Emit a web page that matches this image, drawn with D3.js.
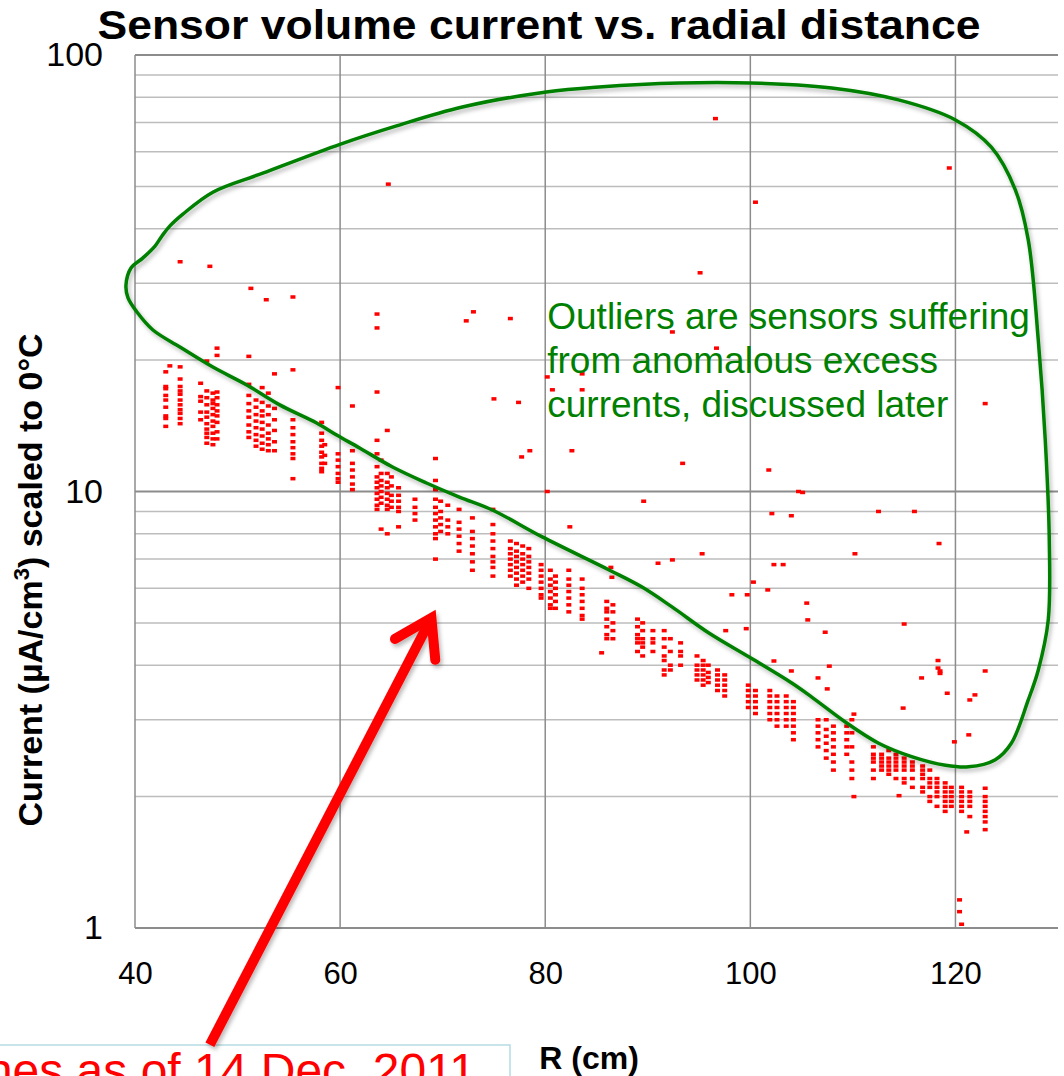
<!DOCTYPE html>
<html>
<head>
<meta charset="utf-8">
<script src="https://cdn.jsdelivr.net/npm/d3@7"></script>
<style>
  body { margin: 0; background: #fff; }
  svg { display: block; font-family: "Liberation Sans", Arial, sans-serif; }
</style>
</head>
<body>
<svg id="chart"></svg>
<script>
// chart size
const width = 1064, height = 1076;
const plot = { left: 135, right: 1058, top: 55, bottom: 928 };

// axis ticks
const xTicks = [40, 60, 80, 100, 120];
const yTicks = [1, 10, 100];

// main band: one entry per radial column, values in uA/cm3
const bandR = [43.0, 44.4, 46.4, 47.0, 47.6, 48.0, 51.1, 51.8, 52.4, 53.0, 53.6, 55.4, 58.2, 58.5, 59.8, 61.2,
  63.6, 64.0, 64.6, 65.0, 65.7, 67.3, 69.3, 69.8, 70.5, 71.6, 72.9, 74.9, 76.6, 77.2, 77.8, 78.4, 79.6, 80.5,
  81.0, 82.3, 83.6, 86.0, 86.6, 89.0, 89.5, 90.5, 91.6, 92.2, 93.2, 94.8, 95.4, 95.9, 96.8, 97.5, 99.8, 100.5,
  101.9, 102.6, 103.5, 104.2, 106.6, 107.4, 108.1, 109.4, 109.9, 112.0, 112.8, 113.5, 114.2, 115.0, 115.8,
  116.8, 117.5, 118.2, 119.0, 119.6, 120.6, 121.4, 122.9];
const bandValues = [
  [18.8, 17.4, 17.2, 16.6, 16.2, 15.6, 14.9, 14.7, 14.1],
  [19.3, 18.1, 17.4, 17.0, 16.7, 16.2, 15.8, 15.4, 15.1, 14.7, 14.3],
  [17.7, 16.5, 16.1, 15.2, 14.6],
  [19.9, 17.0, 16.4, 15.8, 15.2, 14.8, 14.3, 13.9, 13.6, 13.3, 12.9],
  [16.8, 16.2, 15.9, 15.5, 15.0, 14.5, 14.1, 13.6, 13.2, 12.8],
  [21.3, 20.5, 16.9, 16.4, 15.8, 15.3, 14.9, 14.4, 13.7, 13.2],
  [20.4, 17.6, 16.6, 15.9, 15.3, 14.8, 14.2, 13.7, 13.3],
  [16.2, 15.6, 15.0, 14.5, 14.0, 13.5, 13.1, 12.7],
  [17.3, 16.0, 15.3, 14.9, 14.4, 13.9, 13.4, 12.9, 12.5],
  [16.8, 15.7, 15.0, 14.2, 13.6, 13.2, 12.8, 12.4],
  [18.6, 15.5, 14.6, 13.8, 13.0, 12.4],
  [19.0, 14.6, 14.0, 13.5, 13.0, 12.6, 12.2, 11.9, 10.7],
  [14.4, 13.6, 13.1, 12.7, 12.3, 12.0, 11.6, 11.3, 11.1],
  [12.8, 12.1, 11.6],
  [17.3, 12.2, 11.8, 11.4, 11.0, 10.7, 10.5],
  [15.7, 12.4, 11.6, 11.2, 10.8, 10.4, 10.1],
  [16.9, 13.1, 12.2, 11.4, 10.8, 10.5, 10.2, 9.9, 9.6, 9.3, 9.1],
  [11.8, 11.0, 10.6, 10.3, 10.0, 9.7, 9.4, 8.2],
  [13.8, 11.0, 10.5, 10.2, 9.9, 9.6, 9.3, 9.1, 8.0],
  [10.8, 10.3, 9.8, 9.5, 9.2],
  [10.2, 9.8, 9.5, 9.2, 9.0, 8.3],
  [9.6, 9.2, 8.9, 8.6],
  [10.6, 10.1, 9.6, 9.2, 8.9, 8.6, 8.3, 8.0, 7.8, 7.0],
  [9.5, 9.0, 8.7, 8.4, 8.1],
  [9.3, 8.6, 8.3, 8.0],
  [9.1, 8.5, 8.2, 7.9, 7.6, 7.3],
  [8.7, 8.1, 7.8, 7.5, 7.2, 6.9, 6.6],
  [9.1, 8.4, 8.0, 7.7, 7.4, 7.1, 6.9, 6.7, 6.4],
  [7.7, 7.4, 7.2, 7.0, 6.8, 6.6, 6.4],
  [7.6, 7.3, 7.1, 6.9, 6.7, 6.5, 6.3, 6.1],
  [7.5, 7.2, 7.0, 6.8, 6.6, 6.4, 6.2],
  [7.4, 7.1, 6.9, 6.7, 6.5, 6.3, 6.0],
  [6.8, 6.6, 6.4, 6.2, 6.0, 5.8, 5.7],
  [6.6, 6.3, 6.1, 5.9, 5.7, 5.5, 5.4],
  [6.4, 6.2, 6.0, 5.8, 5.6, 5.4],
  [6.6, 6.3, 6.1, 5.9, 5.7, 5.5, 5.3],
  [6.3, 6.0, 5.8, 5.6, 5.4, 5.2, 5.1],
  [5.6, 5.4, 5.3, 5.1, 4.9, 4.7, 4.6],
  [5.5, 5.3, 5.0, 4.8, 4.6],
  [5.1, 4.9, 4.7, 4.6, 4.5, 4.3],
  [5.0, 4.8, 4.6, 4.5, 4.4, 4.2],
  [4.8, 4.6, 4.5, 4.3],
  [4.8, 4.6, 4.4, 4.2, 4.1, 3.9, 3.8],
  [4.6, 4.3, 4.0, 3.9],
  [4.5, 4.3, 4.2, 4.0],
  [4.2, 4.0, 3.9, 3.8, 3.7],
  [4.1, 4.0, 3.9, 3.8, 3.7, 3.6],
  [4.0, 3.85, 3.75, 3.65],
  [3.9, 3.8, 3.7, 3.6, 3.5],
  [3.8, 3.7, 3.6, 3.5, 3.4],
  [3.6, 3.5, 3.4, 3.3, 3.2],
  [3.5, 3.4, 3.3, 3.2, 3.1],
  [3.5, 3.4, 3.3, 3.2, 3.1, 3.0],
  [3.4, 3.3, 3.2, 3.1, 3.0, 2.9],
  [3.4, 3.3, 3.2, 3.1, 3.0, 2.9],
  [3.3, 3.2, 3.1, 3.0, 2.9, 2.8, 2.7],
  [3.0, 2.9, 2.8, 2.7, 2.6],
  [3.0, 2.85, 2.75, 2.65, 2.55, 2.45],
  [2.9, 2.8, 2.7, 2.6, 2.5, 2.4, 2.3],
  [2.9, 2.8, 2.7, 2.6, 2.5],
  [3.0, 2.8, 2.6, 2.4, 2.3, 2.2],
  [2.6, 2.5, 2.45, 2.4, 2.3, 2.2],
  [2.5, 2.45, 2.4, 2.35, 2.3],
  [2.55, 2.45, 2.4, 2.35, 2.3, 2.25],
  [2.5, 2.45, 2.4, 2.35, 2.3, 2.2],
  [2.45, 2.4, 2.35, 2.3, 2.2, 2.15],
  [2.4, 2.35, 2.3, 2.2, 2.1],
  [2.35, 2.3, 2.25, 2.2, 2.1, 2.05],
  [2.3, 2.2, 2.15, 2.1, 2.0, 1.95],
  [2.2, 2.15, 2.1, 2.05, 2.0, 1.9],
  [2.15, 2.1, 2.05, 2.0, 1.95, 1.9, 1.85],
  [2.1, 2.05, 2.0, 1.95, 1.9],
  [2.1, 2.05, 2.0, 1.95, 1.9, 1.85],
  [2.05, 2.0, 1.95, 1.9, 1.8],
  [2.09, 2.0, 1.95, 1.9, 1.85, 1.8, 1.75, 1.68]
];

// outlier sensors, [R, current]
const outliers = [[44.4,33.6],[47.3,32.8],[51.3,29.2],[52.8,27.5],[55.4,27.9],[64.7,50.6],[63.6,25.5],[63.6,23.7],
  [72.3,24.6],[73.0,25.8],[76.6,24.9],[96.6,71.5],[100.5,46.0],[95.1,31.7],[119.4,55.1],[92.4,23.2],[96.7,21.3],
  [80.2,18.3],[83.6,18.6],[80.7,17.1],[83.6,17.1],[122.9,15.9],[75.0,16.3],[77.4,16.0],[43.4,19.4],[69.3,11.9],
  [77.7,12.0],[78.5,12.4],[82.6,12.4],[80.2,10.0],[82.4,8.3],[89.6,9.5],[93.4,11.6],[95.3,7.2],[101.8,11.2],
  [105.1,9.95],[104.7,10.0],[102.1,8.9],[104.0,8.8],[112.5,9.0],[116.0,9.0],[118.4,7.6],[110.2,7.2],[91.0,6.85],
  [92.4,6.97],[86.4,6.7],[86.5,6.36],[100.3,6.2],[102.3,6.8],[103.2,6.8],[98.2,5.8],[99.7,5.8],[101.7,5.95],
  [105.5,5.55],[105.6,5.08],[99.6,4.85],[97.6,4.8],[85.5,4.27],[102.3,4.09],[104.0,3.88],[107.7,3.98],[106.6,3.74],
  [107.5,3.53],[110.1,3.09],[114.9,3.19],[116.7,3.74],[118.5,3.88],[118.5,3.83],[119.2,3.45],[121.9,3.42],
  [121.4,3.33],[122.9,3.88],[121.3,2.77],[119.9,2.67],[110.1,2.0],[114.5,2.01],[121.1,1.66],[120.4,1.16],
  [120.4,1.09],[120.6,1.02],[115.0,4.97],[107.3,4.76],[118.3,4.1],[118.3,3.94]];

// hand-drawn green loop around the outliers, [R, current]
const envelope = [[39.12,29.7],[39.61,32.5],[40.78,34.3],[41.95,36.5],[42.63,38.5],[43.41,40.6],[44.67,43.2],
  [47.59,48.5],[52.46,53.6],[60.05,62.5],[65.5,68.8],[71.92,76.0],[80.1,82.3],[85.26,84.5],[93.04,86.3],
  [100.05,86.3],[107.93,84.0],[114.45,78.9],[120.0,71.0],[123.5,61.5],[125.84,49.1],[127.1,37.7],[128.08,22.2],
  [128.76,13.1],[129.15,7.74],[129.05,5.08],[128.08,3.9],[127.1,3.33],[125.45,2.65],[123.89,2.43],[121.27,2.34],
  [119.03,2.36],[115.72,2.47],[112.51,2.65],[109.29,2.96],[105.99,3.38],[104.04,3.64],[99.85,4.18],[95.96,4.74],
  [92.36,5.44],[89.44,6.04],[86.23,6.61],[79.71,7.87],[74.84,9.07],[71.63,9.71],[68.42,10.46],[65.11,11.38],
  [61.9,12.58],[59.66,13.47],[57.71,14.35],[54.11,15.79],[50.9,17.54],[47.59,19.28],[44.38,21.43],[41.75,23.44],
  [40.19,25.77],[39.32,27.76]];

// red arrow: tail and tip, [R, current]
const arrowTail = [47.3, 0.54];
const arrowTip = [68.9, 5.13];

const svg = d3.select('#chart').attr('width', width).attr('height', height);

const x = d3.scaleLinear().domain([40, 130]).range([plot.left, plot.right]);
const y = d3.scaleLog().domain([1, 100]).range([plot.bottom, plot.top]);

const defs = svg.append('defs');
const shadow = defs.append('filter').attr('id', 'shadow')
  .attr('x', '-10%').attr('y', '-10%').attr('width', '120%').attr('height', '120%');
shadow.append('feDropShadow').attr('dx', 2).attr('dy', 3).attr('stdDeviation', 2)
  .attr('flood-color', '#000').attr('flood-opacity', 0.28);

// horizontal grid (log minor lines)
const yGrid = y.ticks();
svg.append('g').selectAll('line')
  .data(yGrid)
  .enter().append('line')
  .attr('x1', plot.left).attr('x2', plot.right)
  .attr('y1', d => y(d)).attr('y2', d => y(d))
  .attr('stroke', d => yTicks.includes(d) ? '#8c8c8c' : '#bdbdbd')
  .attr('stroke-width', d => yTicks.includes(d) ? 2 : 1.5);

// vertical grid
svg.append('g').selectAll('line')
  .data(xTicks)
  .enter().append('line')
  .attr('x1', d => x(d)).attr('x2', d => x(d))
  .attr('y1', plot.top).attr('y2', plot.bottom)
  .attr('stroke', '#8c8c8c')
  .attr('stroke-width', 1.5);

// axes labels
const xAxis = svg.append('g')
  .attr('transform', `translate(0,${plot.bottom})`)
  .call(d3.axisBottom(x).tickValues(xTicks).tickSize(0).tickPadding(34));
xAxis.select('.domain').remove();
xAxis.selectAll('text').attr('font-size', 31).attr('fill', '#000')
  .attr('font-family', '"Liberation Sans", Arial, sans-serif');

const yAxis = svg.append('g')
  .attr('transform', `translate(${plot.left},0)`)
  .call(d3.axisLeft(y).tickValues(yTicks).tickFormat(d3.format('d')).tickSize(0).tickPadding(32));
yAxis.select('.domain').remove();
yAxis.selectAll('text').attr('font-size', 34).attr('fill', '#000')
  .attr('font-family', '"Liberation Sans", Arial, sans-serif');

// band points
const bandPoints = [];
bandR.forEach((r, i) => bandValues[i].forEach(v => bandPoints.push([r, v])));

svg.append('g').selectAll('rect')
  .data(bandPoints.concat(outliers))
  .enter().append('rect')
  .attr('x', d => x(d[0]) - 2.5)
  .attr('y', d => y(d[1]) - 1.75)
  .attr('width', 5)
  .attr('height', 3.5)
  .attr('fill', '#ff0000');

// green loop
svg.append('path')
  .datum(envelope)
  .attr('d', d3.line().x(d => x(d[0])).y(d => y(d[1])).curve(d3.curveCatmullRomClosed.alpha(0.5)))
  .attr('fill', 'none')
  .attr('stroke', '#008000')
  .attr('stroke-width', 3.5)
  .attr('filter', 'url(#shadow)');

// outlier note
const note = svg.append('text')
  .attr('x', x(80.2))
  .attr('y', 329)
  .attr('fill', '#008000')
  .attr('font-size', 37);
['Outliers are sensors suffering', 'from anomalous excess', 'currents, discussed later']
  .forEach((t, i) => note.append('tspan').attr('x', x(80.2)).attr('dy', i ? 44 : 0).text(t));

// caption box at the bottom (runs off the page)
svg.append('rect')
  .attr('x', -4).attr('y', 1045).attr('width', 514).attr('height', 60)
  .attr('fill', '#fff').attr('stroke', '#b4dbe4').attr('stroke-width', 1.5);
svg.append('text')
  .attr('x', 476).attr('y', 1087)
  .attr('text-anchor', 'end')
  .attr('fill', '#ff0000')
  .attr('font-size', 48)
  .text('All patches as of 14 Dec. 2011');

// red arrow
const tail = [x(arrowTail[0]), y(arrowTail[1])];
const tip = [x(arrowTip[0]), y(arrowTip[1])];
const ang = Math.atan2(tail[1] - tip[1], tail[0] - tip[0]);
const wing = 42, spread = Math.PI / 5.5;
const arrow = svg.append('g').attr('filter', 'url(#shadow)');
arrow.append('line')
  .attr('x1', tail[0]).attr('y1', tail[1]).attr('x2', tip[0]).attr('y2', tip[1])
  .attr('stroke', '#ff0000').attr('stroke-width', 10);
arrow.append('path')
  .attr('d', d3.line()([
    [tip[0] + wing * Math.cos(ang + spread), tip[1] + wing * Math.sin(ang + spread)],
    tip,
    [tip[0] + wing * Math.cos(ang - spread), tip[1] + wing * Math.sin(ang - spread)]
  ]))
  .attr('fill', 'none').attr('stroke', '#ff0000').attr('stroke-width', 10)
  .attr('stroke-linecap', 'round').attr('stroke-linejoin', 'miter');

// titles
svg.append('text')
  .attr('x', 539).attr('y', 39)
  .attr('text-anchor', 'middle')
  .attr('font-size', 40).attr('font-weight', 'bold')
  .attr('textLength', 883).attr('lengthAdjust', 'spacingAndGlyphs')
  .text('Sensor volume current vs. radial distance');

svg.append('text')
  .attr('x', 589).attr('y', 1069)
  .attr('text-anchor', 'middle')
  .attr('font-size', 32).attr('font-weight', 'bold')
  .text('R (cm)');

const yLabel = svg.append('text')
  .attr('transform', 'translate(42,580) rotate(-90)')
  .attr('text-anchor', 'middle')
  .attr('font-size', 34).attr('font-weight', 'bold');
yLabel.append('tspan').text('Current (\u00b5A/cm');
yLabel.append('tspan').attr('font-size', 22).attr('dy', -13).text('3');
yLabel.append('tspan').attr('dy', 13).text(') scaled to 0\u00b0C');
</script>
</body>
</html>
